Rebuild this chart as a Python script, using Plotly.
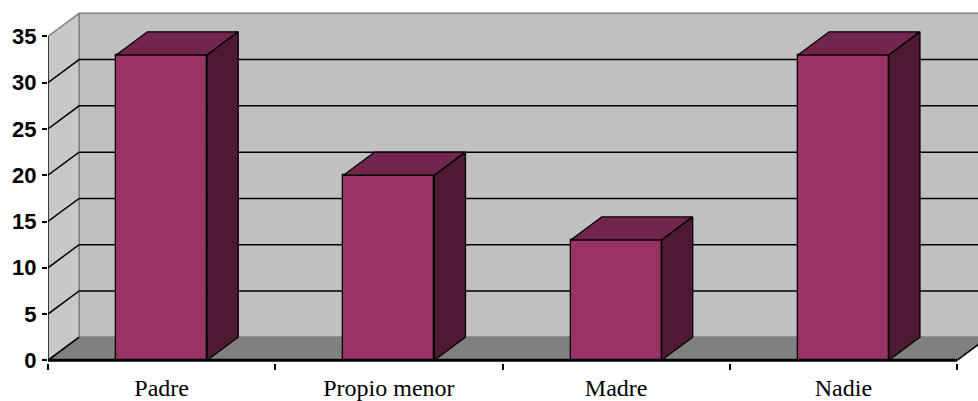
import plotly.graph_objects as go

# Data
categories = ["Padre", "Propio menor", "Madre", "Nadie"]
values = [33, 20, 13, 33]
y_ticks = [0, 5, 10, 15, 20, 25, 30, 35]

# 3D look parameters (in axis units)
DX = 0.137      # depth offset along x (category units)
DY = 2.5        # depth offset along y (value units)
BAR_W = 0.40
Y_MAX = 35
X_LO, X_HI = -0.5, len(categories) - 0.5

FRONT = "#993366"
TOP = "#73264D"
SIDE = "#4D1933"
WALL = "#C0C0C0"
SIDE_WALL = "#C8C8C8"
FLOOR = "#808080"
EDGE = "#808080"

fig = go.Figure()


def poly(xs, ys, fill, line_color, line_width, xaxis="x"):
    fig.add_trace(go.Scatter(
        x=list(xs) + [xs[0]], y=list(ys) + [ys[0]], mode="lines", fill="toself",
        fillcolor=fill, line=dict(color=line_color, width=line_width),
        hoverinfo="skip", showlegend=False, xaxis=xaxis))


def seg(xs, ys, color, width, xaxis="x"):
    fig.add_trace(go.Scatter(
        x=xs, y=ys, mode="lines", line=dict(color=color, width=width),
        hoverinfo="skip", showlegend=False, xaxis=xaxis))


# back wall
poly([X_LO + DX, X_HI + DX, X_HI + DX, X_LO + DX],
     [DY, DY, Y_MAX + DY, Y_MAX + DY], WALL, EDGE, 1.5)
# side wall
poly([X_LO, X_LO, X_LO + DX, X_LO + DX],
     [0, Y_MAX, Y_MAX + DY, DY], SIDE_WALL, EDGE, 1.5)
# floor
poly([X_LO, X_HI, X_HI + DX, X_LO + DX], [0, 0, DY, DY], FLOOR, EDGE, 1)

# gridlines on walls
for v in y_ticks[1:-1]:
    seg([X_LO, X_LO + DX, X_HI + DX], [v, v + DY, v + DY], "black", 1.5)

# floor edges
seg([X_LO, X_LO + DX], [0, DY], "black", 1.5)
seg([X_HI, X_HI + DX], [0, DY], "black", 1.5)
seg([X_LO, X_HI], [0, 0], "black", 3)
# front vertical edge of value axis
seg([X_LO, X_LO], [0, Y_MAX], "black", 1.2)

# bars: front faces
xs = list(range(len(categories)))
fig.add_trace(go.Bar(
    x=xs, y=values, width=BAR_W, marker=dict(color=FRONT, line=dict(color="black", width=1.3)),
    xaxis="x2", showlegend=False, hoverinfo="skip"))

# bars: top and side faces
for x, v in zip(xs, values):
    l, r = x - BAR_W / 2, x + BAR_W / 2
    poly([l, r, r + DX, l + DX], [v, v, v + DY, v + DY], TOP, "black", 1.3, xaxis="x2")
    poly([r, r + DX, r + DX, r], [0, DY, v + DY, v], SIDE, "black", 1.3, xaxis="x2")

PX_PER_UNIT = 9.252
PLOT_H = 363
Y_LO = -(PLOT_H - 360.3) / PX_PER_UNIT
Y_HI = 360.3 / PX_PER_UNIT
X_RANGE = [X_LO, X_LO + (978 - 48) / 227.25]

fig.update_layout(
    width=978, height=401,
    margin=dict(l=48, r=0, t=0, b=401 - PLOT_H),
    paper_bgcolor="white", plot_bgcolor="white",
    bargap=0,
    xaxis=dict(
        range=X_RANGE, showgrid=False, zeroline=False, showline=False,
        tickmode="array", tickvals=xs, ticktext=categories, ticks="",
        ticklabelstandoff=8,
        tickfont=dict(family="Liberation Serif", size=24, color="black"),
        minor=dict(tickmode="array", tickvals=[i - 0.5 for i in range(len(categories) + 1)],
                   ticks="outside", ticklen=6, tickwidth=1.5, tickcolor="black", showgrid=False),
    ),
    xaxis2=dict(range=X_RANGE, overlaying="x", visible=False),
    yaxis=dict(
        range=[Y_LO, Y_HI], showgrid=False, zeroline=False, showline=False,
        tickmode="array", tickvals=y_ticks, ticks="outside", ticklen=5, tickwidth=1.5,
        tickcolor="black", ticklabelstandoff=1,
        tickfont=dict(family="Liberation Sans", size=22, color="black", weight="bold"),
    ),
)

fig.write_html("out.html")
